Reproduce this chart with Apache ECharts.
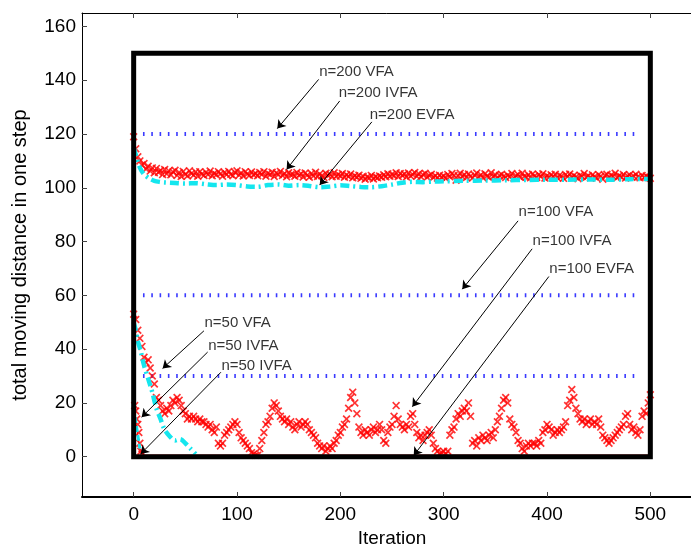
<!DOCTYPE html>
<html>
<head>
<meta charset="utf-8">
<script src="https://cdn.jsdelivr.net/npm/echarts@6/dist/echarts.min.js"></script>
<style>
html, body { margin: 0; padding: 0; background: #fff; }
#main { width: 691px; height: 547px; }
</style>
</head>
<body>
<div id="main"></div>
<script>
var xTicks = [0, 100, 200, 300, 400, 500];
var yTicks = [0, 20, 40, 60, 80, 100, 120, 140, 160];

// n=200 IVFA, one value every 2 iterations from 0
var n200Step = 2;
var n200IVFA = [
	119, 114.5, 111.5, 110, 108.5, 109, 107, 108, 106.2, 107.4,
	105.6, 107.2, 105.8, 106.4, 104.9, 106.8, 105.2, 106.3, 104.8, 105.9,
	106.5, 104.6, 105.7, 104.2, 106.1, 105.0, 104.4, 106.3, 105.3, 104.7,
	105.9, 104.3, 106.0, 105.1, 104.6, 105.8, 104.9, 106.2, 104.5, 105.4,
	104.8, 106.0, 105.2, 104.3, 105.7, 104.9, 106.1, 105.0, 104.5, 105.8,
	106.3, 104.7, 105.5, 104.4, 106.0, 105.1, 104.6, 105.9, 104.8, 105.3,
	104.5, 105.7, 104.9, 106.0, 104.3, 105.4, 104.8, 105.8, 104.2, 105.5,
	104.9, 106.1, 104.6, 105.3, 104.1, 105.6, 104.8, 105.0, 104.3, 105.7,
	104.6, 105.2, 104.0, 105.5, 104.7, 103.9, 105.3, 104.4, 105.8, 104.2,
	105.1, 104.5, 103.8, 105.4, 104.6, 105.0, 104.1, 105.6, 104.3, 104.9,
	104.4, 105.3, 103.9, 104.8, 104.2, 105.1, 103.7, 104.5, 103.9, 104.7,
	103.5, 104.3, 103.2, 104.0, 103.6, 104.6, 103.3, 104.1, 103.7, 104.4,
	103.9, 104.8, 104.1, 105.2, 104.3, 105.0, 104.5, 105.6, 104.2, 105.3,
	104.6, 105.1, 104.0, 105.5, 104.4, 104.9, 105.7, 104.3, 105.2, 104.1,
	104.8, 105.4, 103.9, 104.6, 105.0, 103.8, 104.5, 103.6, 104.7, 103.9,
	104.4, 103.5, 104.9, 104.1, 105.3, 104.6, 102.8, 104.5, 105.4, 104.2,
	104.9, 103.8, 105.1, 104.3, 103.6, 104.7, 105.5, 104.0, 104.8, 103.7,
	105.2, 104.4, 103.9, 105.6, 104.1, 104.8, 103.5, 104.6, 105.0, 104.2,
	103.8, 104.7, 104.1, 105.3, 103.6, 104.5, 104.9, 103.9, 105.4, 104.3,
	104.0, 104.8, 103.7, 105.1, 104.4, 103.8, 104.9, 104.2, 105.2, 103.6,
	104.5, 103.9, 104.8, 104.1, 105.0, 103.7, 104.6, 104.3, 103.5, 104.9,
	104.2, 105.1, 103.8, 104.6, 104.0, 103.4, 104.7, 104.2, 105.3, 103.9,
	104.5, 103.7, 104.8, 104.1, 103.6, 104.9, 104.3, 103.2, 104.6, 105.0,
	103.9, 104.7, 104.2, 105.4, 103.8, 104.5, 104.0, 104.9, 103.6, 104.4,
	104.8, 103.9, 104.3, 105.0, 104.1, 103.7, 104.6, 103.9, 104.4, 103.8,
	103.5
];

// n=200 EVFA
var n200EVFAx = [0, 3, 6, 10, 15, 20, 25, 30, 40, 50, 60, 70, 80, 90, 100, 110, 120, 130, 140, 150,
	160, 170, 180, 190, 200, 210, 220, 230, 240, 250, 260, 270, 280, 290, 300, 320, 340, 360, 380, 400,
	420, 440, 460, 480, 500];
var n200EVFAy = [115, 111, 107.5, 105, 103.5, 102.6, 102.2, 102, 101.8, 101.6, 101.7, 101.3, 101, 101.2, 101, 100.5, 100.4, 101, 101.2, 100.8,
	101, 100.7, 100.2, 100.5, 100.9, 100.6, 100.3, 100.2, 100.6, 101.2, 101.9, 102.2, 102.1, 102.3, 102.4, 102.6, 102.7, 102.8, 102.9, 103,
	103, 103.1, 103, 103.2, 103.3];

// n=50 IVFA dropping into n=100 IVFA, one value every 2 iterations from 0
var lowStep = 2;
var lowIVFA = [
	53, 51, 47, 44, 41, 37, 35, 36, 33, 30,
	27, 22, 21, 19, 17, 16, 18, 17, 19, 21,
	20, 22, 21, 19, 17, 16, 14, 15, 14, 15,
	14, 13, 14, 13, 13, 12, 11, 12, 10, 9,
	11, 5, 4, 5, 8, 9, 10, 11, 12, 13,
	12, 9, 7, 6, 5, 4, 3, 1.5, 1, 0.5,
	0.5, 3, 6, 9, 12, 13, 15, 18, 20, 19,
	17, 15, 14, 13, 14, 12, 13, 11, 10, 12,
	13, 11, 12, 13, 12, 10, 9, 8, 7, 5,
	4, 3, 4, 2, 3, 4, 3, 5, 6, 8,
	9, 11, 12, 14, 18, 22, 24, 20, 16, 11,
	9, 8, 10, 9, 8, 10, 11, 9, 10, 12,
	10, 6, 5, 9, 11, 12, 15, 19, 14, 12,
	11, 10, 12, 11, 15, 16, 12, 9, 7, 8,
	6, 8, 9, 10, 8, 5, 3, 2, 1, 1.5,
	2, 1, 2, 8, 10, 11, 14, 16, 15, 17,
	18, 17, 20, 15, 5, 6, 4, 7, 6, 8,
	7, 6, 8, 9, 7, 10, 13, 15, 18, 21,
	22, 20, 14, 12, 11, 9, 6, 5, 3, 2,
	4, 5, 4, 5, 5, 4, 6, 5, 9, 10,
	12, 11, 10, 8, 9, 10, 9, 10, 11, 13,
	19, 21, 25, 22, 18, 16, 14, 13, 14, 12,
	13, 14, 12, 13, 12, 14, 11, 8, 7, 6,
	5, 6, 7, 8, 9, 10, 11, 12, 15, 16,
	12, 10, 11, 9, 8, 10, 15, 17, 16, 20,
	23
];

// short n=50 IVFA
var n50ShortX = [1, 2, 3, 4, 5, 6, 7, 8];
var n50ShortY = [19, 17, 14, 12, 9, 5, 2, 1];

// n=50 EVFA
var n50EVFAx = [0, 2, 4, 7, 10, 14, 18, 22, 26, 30, 35, 40, 45, 50, 55, 60];
var n50EVFAy = [50, 47, 43, 39, 34, 29, 24, 18, 14, 10, 7.5, 6, 6.5, 5, 3, 1];

// n=100 EVFA
var n100EVFAx = [0, 2, 4, 6, 10, 500];
var n100EVFAy = [18, 13, 8, 3, 0.6, 0.6];

// VFA levels (n=200, n=100, n=50)
var vfaLevels = [120, 60, 30];
var vfaRange = [9, 490];

var boxX = [0, 0, 500, 500, 0];
var boxY = [0, 150, 150, 0, 0];

var annoText = ['n=200 VFA', 'n=200 IVFA', 'n=200 EVFA', 'n=100 VFA', 'n=100 IVFA', 'n=100 EVFA',
	'n=50 VFA', 'n=50 IVFA', 'n=50 IVFA'];
var annoPos = [[179, 143], [198, 135.2], [228, 127.1], [372, 91], [385.6, 80.2], [401.8, 70],
	[68, 49.7], [71.6, 41.3], [84.4, 33.7]];
var arrowFrom = [[179, 140.3], [199.4, 132.3], [230.5, 124.5], [372, 87.7], [385.6, 77.3], [401.8, 67],
	[68, 46.8], [71.6, 38.9], [84.4, 31.4]];
var arrowTo = [[139, 122], [148, 106.8], [180, 101], [318, 62.3], [269.7, 18.6], [271, 0.4],
	[28, 32.8], [7.7, 14.7], [6.8, 1]];

(function(){
	var font = 'Liberation Sans, Arial, sans-serif';
	//filled "x" marker
	var xMark = 'path://M0,1.5L1.5,0L5,3.5L8.5,0L10,1.5L6.5,5L10,8.5L8.5,10L5,6.5L1.5,10L0,8.5L3.5,5Z';

	function pairs(xs, ys){
		var out = [];
		for(var i = 0 ; i < xs.length ; i++){
			out.push([xs[i], ys[i]]);
		}
		return out;
	}
	function stepPairs(ys, step){
		var out = [];
		for(var i = 0 ; i < ys.length ; i++){
			out.push([i * step, ys[i]]);
		}
		return out;
	}

	var series = [];

	//blue dotted VFA levels
	vfaLevels.forEach(function(v){
		series.push({
			type: 'line',
			data: [[vfaRange[0], v], [vfaRange[1], v]],
			symbol: 'none',
			lineStyle: { color: '#3a3aff', width: 4, type: [1.6, 6.7] },
			z: 2
		});
	});

	//red x markers
	var redSets = [stepPairs(n200IVFA, n200Step), stepPairs(lowIVFA, lowStep), pairs(n50ShortX, n50ShortY)];
	redSets.forEach(function(d){
		series.push({
			type: 'scatter',
			data: d,
			symbol: xMark,
			symbolSize: 8,
			itemStyle: { color: '#ff0000' },
			z: 3
		});
	});

	//cyan dash-dot lines
	[pairs(n200EVFAx, n200EVFAy), pairs(n50EVFAx, n50EVFAy)].forEach(function(d){
		series.push({
			type: 'line',
			data: d,
			symbol: 'none',
			smooth: 0.3,
			lineStyle: { color: '#14e6ee', width: 4.5, type: [9, 4, 2, 4] },
			z: 4
		});
	});
	series.push({
		type: 'line',
		data: pairs(n100EVFAx, n100EVFAy),
		symbol: 'none',
		lineStyle: { color: '#ff2020', width: 1 },
		z: 3
	});
	series.push({
		type: 'line',
		data: pairs(n100EVFAx.slice(0, 4), n100EVFAy.slice(0, 4)),
		symbol: 'none',
		lineStyle: { color: '#14e6ee', width: 3, type: [6, 3] },
		z: 4
	});

	//black box
	series.push({
		type: 'line',
		data: pairs(boxX, boxY),
		symbol: 'none',
		clip: false,
		lineStyle: { color: '#000', width: 5, join: 'miter', cap: 'square' },
		z: 6
	});

	//arrows
	var arrowData = [];
	for(var i = 0 ; i < arrowFrom.length ; i++){
		arrowData.push({ coords: [arrowFrom[i], arrowTo[i]] });
	}
	series.push({
		type: 'lines',
		coordinateSystem: 'cartesian2d',
		data: arrowData,
		symbol: ['none', 'arrow'],
		symbolSize: 8,
		lineStyle: { color: '#000', width: 1, opacity: 1 },
		z: 7
	});

	//annotation texts
	var annoData = [];
	for(var j = 0 ; j < annoText.length ; j++){
		annoData.push({ value: annoPos[j], name: annoText[j] });
	}
	series.push({
		type: 'scatter',
		data: annoData,
		symbolSize: 1,
		itemStyle: { color: 'rgba(0,0,0,0)' },
		label: {
			show: true,
			position: 'right',
			distance: 0,
			formatter: '{b}',
			fontSize: 15,
			color: '#000',
			fontFamily: font
		},
		z: 8
	});

	var myChart = echarts.init(document.getElementById('main'));
	var option = {
		animation: false,
		textStyle: { fontFamily: font },
		grid: { left: 82, top: 13, right: -11, bottom: 50, containLabel: false, outerBoundsMode: 'none' },
		xAxis: [
			{
				type: 'value', min: -50, max: 550, position: 'bottom',
				name: 'Iteration', nameLocation: 'middle', nameGap: 30,
				nameTextStyle: { fontSize: 19, color: '#000' },
				axisLine: { onZero: false, lineStyle: { color: '#000', width: 2 } },
				axisTick: { inside: true, length: 5, customValues: xTicks, lineStyle: { color: '#444' } },
				axisLabel: { customValues: xTicks, fontSize: 19, color: '#000', margin: 8 },
				splitLine: { show: false }
			},
			{
				type: 'value', min: -50, max: 550, position: 'top',
				axisLine: { onZero: false, lineStyle: { color: '#000', width: 1 } },
				axisTick: { inside: true, length: 5, customValues: xTicks, lineStyle: { color: '#444' } },
				axisLabel: { show: false },
				splitLine: { show: false }
			}
		],
		yAxis: [{
			type: 'value', min: -15, max: 165,
			name: 'total moving distance in one step', nameLocation: 'middle', nameGap: 52,
			nameTextStyle: { fontSize: 20, color: '#000' },
			axisLine: { show: true, onZero: false, lineStyle: { color: '#000', width: 1 } },
			axisTick: { show: true, inside: true, length: 5, customValues: yTicks, lineStyle: { color: '#444' } },
			axisLabel: { customValues: yTicks, fontSize: 19, color: '#000', margin: 6 },
			splitLine: { show: false }
		}],
		series: series
	};
	myChart.setOption(option);
})();
</script>
</body>
</html>
